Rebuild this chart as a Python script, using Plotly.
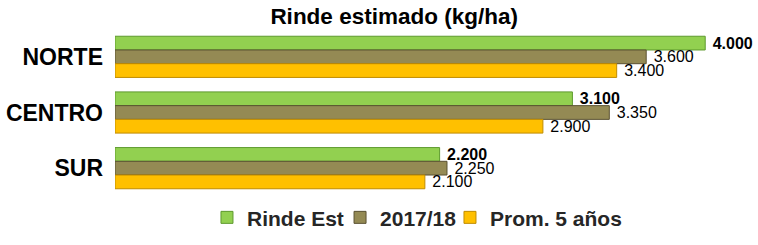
import plotly.graph_objects as go

categories = ["NORTE", "CENTRO", "SUR"]
rinde_est = [4000, 3100, 2200]
campana_1718 = [3600, 3350, 2250]
prom_5 = [3400, 2900, 2100]
series_names = ["Rinde Est", "2017/18", "Prom. 5 años"]
colors = ["#92D050", "#948A54", "#FFC000"]
line_colors = ["#5E9A2E", "#5A5232", "#C08C00"]
legend_ids = ["legend", "legend2", "legend3"]
legend_x = [0.1453, 0.3555, 0.5292]

FONT = "Liberation Sans, Arial"

fig = go.Figure()
for i, (name, vals) in enumerate(zip(series_names, [rinde_est, campana_1718, prom_5])):
    tmpl = "&nbsp;<b>%{x:,.0f}</b>" if i == 0 else "&nbsp;%{x:,.0f}"
    fig.add_trace(go.Bar(
        y=categories, x=vals, name="<b>" + name + "</b>", orientation="h",
        marker=dict(color=colors[i], line=dict(color=line_colors[i], width=1)),
        texttemplate=tmpl, textposition="outside", constraintext="none",
        textfont=dict(family=FONT, size=16, color="#000000"),
        cliponaxis=False, legend=legend_ids[i],
    ))

legend_common = dict(orientation="h", xanchor="left", y=-0.13, yanchor="middle",
                     font=dict(family=FONT, size=21, color="#262626"),
                     bgcolor="rgba(0,0,0,0)")

fig.update_layout(
    width=758, height=245,
    margin=dict(l=115, r=10, t=29, b=49, autoexpand=False),
    paper_bgcolor="white", plot_bgcolor="white",
    barmode="group", bargap=0.26, bargroupgap=0,
    separators=",.",
    title=dict(text="<b>Rinde estimado (kg/ha)</b>", x=0.52, xanchor="center", y=0.935, yanchor="middle",
               font=dict(family=FONT, size=22.5, color="#000000")),
    xaxis=dict(range=[0, 4290], visible=False),
    yaxis=dict(autorange="reversed", showgrid=False, showline=False, ticks="",
               tickfont=dict(family=FONT, size=23, color="#000000"),
               ticklabelstandoff=11,
               tickvals=categories, ticktext=["<b>" + c + "</b>" for c in categories]),
    legend=dict(x=legend_x[0], **legend_common),
    legend2=dict(x=legend_x[1], **legend_common),
    legend3=dict(x=legend_x[2], **legend_common),
    showlegend=True,
)

fig.write_html("out.html")
